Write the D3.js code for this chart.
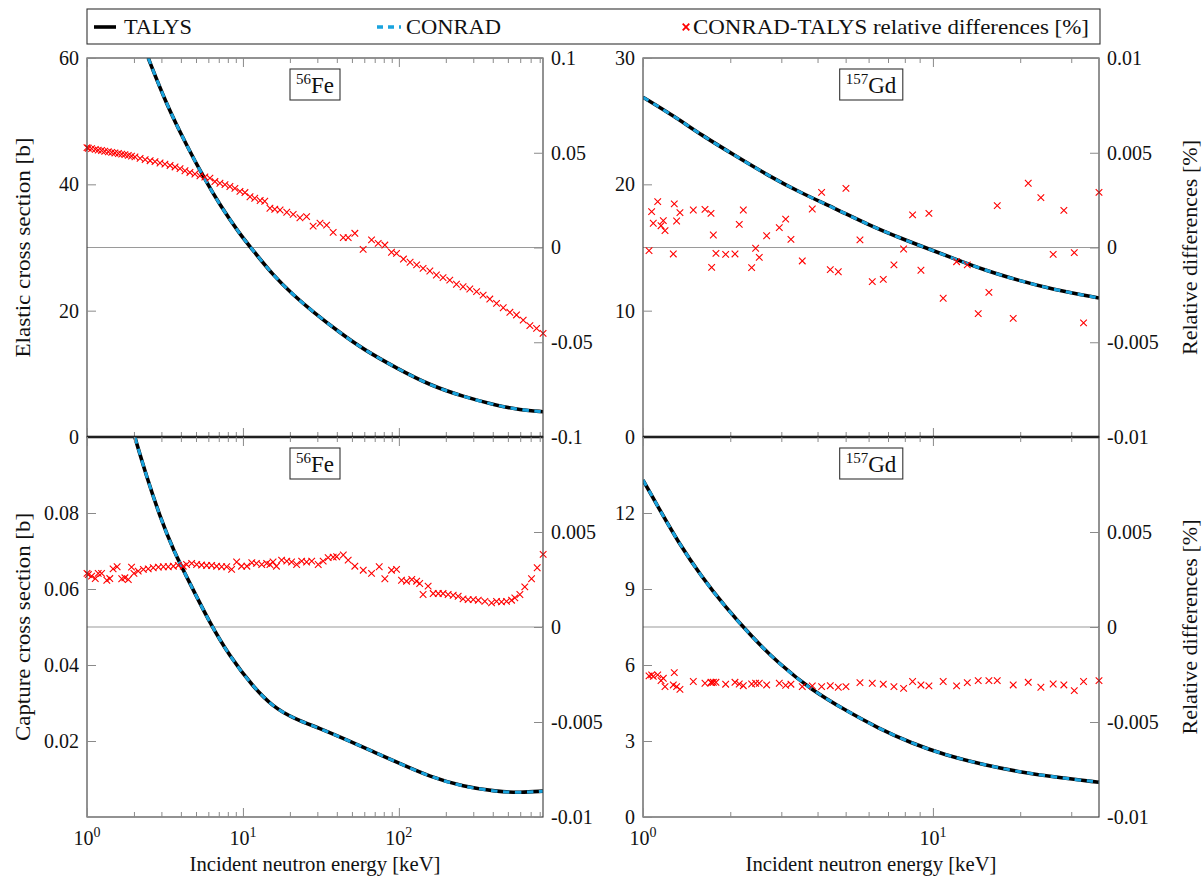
<!DOCTYPE html>
<html><head><meta charset="utf-8">
<script src="https://cdn.jsdelivr.net/npm/d3@7"></script>
<style>
body{margin:0;background:#fff}
svg text{font-family:"Liberation Serif","DejaVu Serif",serif;fill:#111}
</style>
</head><body>
<svg id="c" width="1204" height="880"></svg>
<script>
// ---------------- DATA ----------------
// 56Fe elastic cross section [b] (TALYS; CONRAD identical)
const feElasticE  = [2.47,3.24,4.35,5.57,7.12,9.57,11.4,15.6,21.0,28.2,41.9,59.0,96.6,158,258,423,597,840];
const feElasticXS = [60,52.6,46.2,41.2,36.7,32.1,29.8,25.6,22.5,19.8,16.5,13.9,10.9,8.2,6.4,5.0,4.3,4.0];
// 56Fe capture cross section [b]
const feCaptureE  = [2.03,2.41,2.94,3.57,4.57,6.14,8.25,11.6,15.6,21.0,31.2,46.2,68.5,101,158,258,423,597,840];
const feCaptureXS = [0.0999,0.0896,0.0790,0.0703,0.0615,0.0510,0.0422,0.0343,0.0290,0.0260,0.0233,0.0203,0.0172,0.0141,0.0106,0.0080,0.0067,0.0064,0.0068];
// 157Gd elastic cross section [b]
const gdElasticE  = [1.0,1.29,1.59,2.07,2.70,3.52,4.59,5.98,7.80,9.63,11.9,15.1,19.7,25.7,37.4];
const gdElasticXS = [26.9,25.35,23.9,22.3,20.7,19.3,18.1,16.8,15.7,14.9,14.1,13.2,12.4,11.7,11.0];
// 157Gd capture cross section [b]
const gdCaptureE  = [1.0,1.16,1.32,1.59,1.92,2.37,2.93,3.82,4.98,6.49,8.45,11.0,15.1,19.7,25.7,37.4];
const gdCaptureXS = [13.30,11.99,10.87,9.49,8.30,7.12,6.07,5.01,4.22,3.50,2.91,2.45,2.05,1.79,1.59,1.37];

// CONRAD-TALYS relative differences [%]
const feElDiffE = [1.00,1.02,1.07,1.13,1.18,1.24,1.30,1.37,1.44,1.51,1.59,1.67,1.75,1.84,1.93,2.03,2.19,2.36,2.54,2.73,2.94,3.16,3.41,3.67,3.95,4.25,4.57,4.92,5.30,5.70,6.14,6.61,7.12,7.67,8.25,8.88,9.57,10.3,11.1,11.9,12.9,13.8,14.9,16.0,17.3,19.1,21.0,23.2,25.6,28.2,31.2,34.4,37.9,44.0,47.3,52.2,59.0,66.8,73.7,81.3,89.7,96.6,107,118,130,143,158,174,192,212,234,258,285,315,347,383,423,467,515,568,627,692,764,841];
const feElDiff  = [0.0527,0.0524,0.0522,0.0518,0.0514,0.0512,0.0508,0.0505,0.0502,0.0499,0.0496,0.0493,0.0490,0.0486,0.0482,0.0478,0.0470,0.0464,0.0458,0.0453,0.0446,0.0440,0.0433,0.0425,0.0416,0.0405,0.0396,0.0388,0.0378,0.0372,0.0366,0.0348,0.0339,0.0332,0.0322,0.0312,0.0296,0.0290,0.0268,0.0260,0.0248,0.0244,0.0207,0.0202,0.0198,0.0186,0.0175,0.0157,0.0163,0.0113,0.0128,0.0118,0.0080,0.0052,0.0052,0.0075,-0.0010,0.0040,0.0022,0.0013,-0.0025,-0.0031,-0.0061,-0.0078,-0.0092,-0.0110,-0.0124,-0.0145,-0.0159,-0.0172,-0.0194,-0.0207,-0.0219,-0.0233,-0.0251,-0.0272,-0.0295,-0.0318,-0.0342,-0.0356,-0.0383,-0.0412,-0.0427,-0.0453];

const feCapDiffE = [1.00,1.02,1.07,1.13,1.18,1.24,1.34,1.40,1.47,1.56,1.67,1.75,1.84,1.93,2.00,2.13,2.30,2.47,2.66,2.87,3.09,3.32,3.58,3.85,4.14,4.35,4.69,5.05,5.43,5.85,6.30,6.78,7.30,7.86,8.46,9.11,9.80,10.6,11.4,12.2,13.2,14.2,14.9,15.6,16.4,17.7,19.1,20.5,22.1,23.8,25.6,27.6,30.4,32.7,35.2,37.9,39.9,44.0,47.3,52.2,59.1,66.8,74.8,81.3,89.7,96.6,104,112,121,130,136,143,154,166,179,192,207,223,240,258,278,300,323,356,393,423,455,490,528,554,597,642,709,771,842];
const feCapDiff  = [0.00282,0.00276,0.00268,0.00255,0.00282,0.00282,0.00246,0.00255,0.00306,0.00317,0.00254,0.00259,0.00250,0.00315,0.00282,0.00294,0.00303,0.00306,0.00312,0.00315,0.00317,0.00317,0.00320,0.00324,0.00320,0.00329,0.00335,0.00329,0.00326,0.00324,0.00324,0.00320,0.00317,0.00317,0.00303,0.00342,0.00320,0.00320,0.00338,0.00335,0.00329,0.00335,0.00329,0.00342,0.00320,0.00352,0.00347,0.00342,0.00329,0.00347,0.00342,0.00347,0.00329,0.00347,0.00365,0.00368,0.00370,0.00379,0.00352,0.00320,0.00299,0.00282,0.00317,0.00254,0.00299,0.00303,0.00246,0.00241,0.00250,0.00241,0.00229,0.00171,0.00215,0.00176,0.00176,0.00176,0.00171,0.00167,0.00162,0.00148,0.00144,0.00144,0.00141,0.00135,0.00127,0.00135,0.00132,0.00135,0.00141,0.00153,0.00171,0.00211,0.00254,0.00312,0.00382];

const gdDiffE = [1.049,1.071,1.085,1.124,1.154,1.175,1.191,1.272,1.282,1.306,1.341,1.491,1.636,1.716,1.725,1.748,1.785,1.928,2.076,2.148,2.218,2.370,2.446,2.518,2.670,2.952,3.105,3.238,3.543,3.836,4.131,4.426,4.716,5.012,5.602,6.177,6.742,7.337,7.923,8.509,9.092,9.687,10.85,12.07,13.14,14.33,15.60,16.67,18.92,21.32,23.57,25.99,28.29,30.73,33.08,37.4];
const gdElDiff = [-0.000167,0.00189,0.00128,0.00242,0.00115,0.00142,0.00089,-0.00034,0.00230,0.00140,0.00184,0.00198,0.00201,0.00180,-0.00105,0.00066,-0.00031,-0.00036,-0.00034,0.00122,0.00198,-0.00106,-0.00004,-0.00052,0.00062,0.00105,0.00150,0.00043,-0.00071,0.00203,0.00291,-0.00117,-0.00128,0.00312,0.00040,-0.00180,-0.00168,-0.00092,-0.00008,0.00172,-0.00120,0.00180,-0.00268,-0.00075,-0.00092,-0.00349,-0.00237,0.00221,-0.00374,0.00339,0.00263,-0.00036,0.00196,-0.00027,-0.00398,0.00291];
const gdCapDiff = [-0.00257,-0.00252,-0.00260,-0.00252,-0.00282,-0.00270,-0.00314,-0.00305,-0.00240,-0.00314,-0.00328,-0.00287,-0.00296,-0.00291,-0.00293,-0.00291,-0.00291,-0.00301,-0.00291,-0.00300,-0.00309,-0.00300,-0.00296,-0.00296,-0.00305,-0.00296,-0.00307,-0.00301,-0.00314,-0.00310,-0.00314,-0.00309,-0.00317,-0.00314,-0.00293,-0.00296,-0.00301,-0.00314,-0.00323,-0.00287,-0.00305,-0.00310,-0.00287,-0.00310,-0.00293,-0.00282,-0.00282,-0.00282,-0.00305,-0.00291,-0.00317,-0.00300,-0.00305,-0.00335,-0.00287,-0.00282];

// axes / ticks
const feXDomain = [1, 840];
const gdXDomain = [1, 37.4];
const feXMajor = [1, 10, 100];
const feXMinor = [2,3,4,5,6,7,8,9,20,30,40,50,60,70,80,90,200,300,400,500,600,700,800];
const gdXMajor = [1, 10];
const gdXMinor = [2,3,4,5,6,7,8,9,20,30];
const feXLabelExp = ["0","1","2"];
const gdXLabelExp = ["0","1"];

const feElYDomain = [0, 60],   feElYTicks = [0,20,40,60],            feElYLabels = ["0","20","40","60"];
const gdElYDomain = [0, 30],   gdElYTicks = [0,10,20,30],            gdElYLabels = ["0","10","20","30"];
const feCapYDomain = [0, 0.1], feCapYTicks = [0.02,0.04,0.06,0.08],  feCapYLabels = ["0.02","0.04","0.06","0.08"];
const gdCapYDomain = [0, 15],  gdCapYTicks = [0,3,6,9,12],           gdCapYLabels = ["0","3","6","9","12"];

const feElRDomain = [-0.1, 0.1], feElRTicks = [-0.1,-0.05,0,0.05,0.1], feElRLabels = ["-0.1","-0.05","0","0.05","0.1"];
const smallRDomain = [-0.01, 0.01];
const gdElRTicks = [-0.01,-0.005,0,0.005,0.01], gdElRLabels = ["-0.01","-0.005","0","0.005","0.01"];
const capRTicks = [-0.01,-0.005,0,0.005], capRLabels = ["-0.01","-0.005","0","0.005"];

const legendLabels = ["TALYS","CONRAD","CONRAD-TALYS relative differences [%]"];
const xTitle = "Incident neutron energy [keV]";

// ---------------- DRAWING ----------------
const FONT = '"Liberation Serif","DejaVu Serif",serif';
const svg = d3.select("#c");
const CYAN = "#19a3de", RED = "#ff0000";

const panels = [
 {id:"a", x0:87, x1:543, y0:58, y1:437, xd:feXDomain, xMajor:feXMajor, xMinor:feXMinor, xExp:null,
  yd:feElYDomain, yt:feElYTicks, yl:feElYLabels, rd:feElRDomain, rt:feElRTicks, rl:feElRLabels,
  cE:feElasticE, cV:feElasticXS, dE:feElDiffE, dV:feElDiff, sup:"56", el:"Fe", lt:"Elastic cross section [b]", ltLen:220, rtl:null},
 {id:"b", x0:643, x1:1099, y0:58, y1:437, xd:gdXDomain, xMajor:gdXMajor, xMinor:gdXMinor, xExp:null,
  yd:gdElYDomain, yt:gdElYTicks, yl:gdElYLabels, rd:smallRDomain, rt:gdElRTicks, rl:gdElRLabels,
  cE:gdElasticE, cV:gdElasticXS, dE:gdDiffE, dV:gdElDiff, sup:"157", el:"Gd", lt:null, rtl:"Relative differences [%]"},
 {id:"c", x0:87, x1:543, y0:437, y1:817, xd:feXDomain, xMajor:feXMajor, xMinor:feXMinor, xExp:feXLabelExp,
  yd:feCapYDomain, yt:feCapYTicks, yl:feCapYLabels, rd:smallRDomain, rt:capRTicks, rl:capRLabels,
  cE:feCaptureE, cV:feCaptureXS, dE:feCapDiffE, dV:feCapDiff, sup:"56", el:"Fe", lt:"Capture cross section [b]", ltLen:228, rtl:null},
 {id:"d", x0:643, x1:1099, y0:437, y1:817, xd:gdXDomain, xMajor:gdXMajor, xMinor:gdXMinor, xExp:gdXLabelExp,
  yd:gdCapYDomain, yt:gdCapYTicks, yl:gdCapYLabels, rd:smallRDomain, rt:capRTicks, rl:capRLabels,
  cE:gdCaptureE, cV:gdCaptureXS, dE:gdDiffE, dV:gdCapDiff, sup:"157", el:"Gd", lt:null, rtl:"Relative differences [%]"}
];

const crossPath = "M-3.3,-3.3L3.3,3.3M-3.3,3.3L3.3,-3.3";

function styleAxis(g){
  g.select(".domain").remove();
  g.selectAll(".tick line").attr("stroke","#8a8a8a").attr("stroke-width",1);
  g.attr("font-family",FONT).attr("font-size",20);
  g.selectAll(".tick text").attr("fill","#111");
}

panels.forEach(p=>{
  const x = d3.scaleLog().domain(p.xd).range([p.x0,p.x1]);
  const yL = d3.scaleLinear().domain(p.yd).range([p.y1,p.y0]);
  const yR = d3.scaleLinear().domain(p.rd).range([p.y1,p.y0]);
  const g = svg.append("g");

  g.append("clipPath").attr("id","clip"+p.id).append("rect")
    .attr("x",p.x0).attr("y",p.y0).attr("width",p.x1-p.x0).attr("height",p.y1-p.y0);

  // zero line of relative differences
  g.append("line").attr("x1",p.x0).attr("x2",p.x1).attr("y1",yR(0)).attr("y2",yR(0))
    .attr("stroke","#9a9a9a").attr("stroke-width",1.2);

  const pts = p.cE.map((e,i)=>[e,p.cV[i]]);
  const line = d3.line().x(d=>x(d[0])).y(d=>yL(d[1])).curve(d3.curveBasis);
  g.append("path").attr("d",line(pts)).attr("fill","none").attr("stroke","#000")
    .attr("stroke-width",3.6).attr("clip-path",`url(#clip${p.id})`);
  g.append("path").attr("d",line(pts)).attr("fill","none").attr("stroke",CYAN)
    .attr("stroke-width",3.0).attr("stroke-dasharray","6.5,5.5").attr("clip-path",`url(#clip${p.id})`);

  // markers
  g.selectAll("path.mk").data(p.dE.map((e,i)=>[e,p.dV[i]])).join("path").attr("class","mk")
    .attr("d",crossPath).attr("transform",d=>`translate(${x(d[0])},${yR(d[1])})`)
    .attr("fill","none").attr("stroke",RED).attr("stroke-width",1.1);

  // frame
  g.append("rect").attr("x",p.x0).attr("y",p.y0).attr("width",p.x1-p.x0).attr("height",p.y1-p.y0)
    .attr("fill","none").attr("stroke","#3a3a3a").attr("stroke-width",1.1);

  // x ticks (inward, top and bottom)
  [[d3.axisBottom, p.y1],[d3.axisTop, p.y0]].forEach(([ax,yy])=>{
    const gm = g.append("g").attr("transform",`translate(0,${yy})`)
      .call(ax(x).tickValues(p.xMajor).tickSize(-9).tickFormat(""));
    styleAxis(gm);
    const gn = g.append("g").attr("transform",`translate(0,${yy})`)
      .call(ax(x).tickValues(p.xMinor).tickSize(-5).tickFormat(""));
    styleAxis(gn);
  });

  // left axis
  const gl = g.append("g").attr("transform",`translate(${p.x0},0)`)
    .call(d3.axisLeft(yL).tickValues(p.yt).tickSize(-9).tickPadding(8).tickFormat((d,i)=>p.yl[i]));
  styleAxis(gl);
  // right axis
  const gr = g.append("g").attr("transform",`translate(${p.x1},0)`)
    .call(d3.axisRight(yR).tickValues(p.rt).tickSize(-9).tickPadding(8).tickFormat((d,i)=>p.rl[i]));
  styleAxis(gr);

  // x tick labels (10^n)
  if(p.xExp){
    p.xMajor.forEach((v,i)=>{
      const t = g.append("text").attr("x",x(v)).attr("y",845).attr("text-anchor","middle")
        .attr("font-size",20);
      t.append("tspan").text("10");
      t.append("tspan").attr("font-size",14).attr("dy",-8).text(p.xExp[i]);
    });
    g.append("text").attr("x",(p.x0+p.x1)/2).attr("y",871).attr("text-anchor","middle")
      .attr("font-size",21).attr("textLength",251).attr("lengthAdjust","spacingAndGlyphs").text(xTitle);
  }

  // title box
  const cx = (p.x0+p.x1)/2;
  const tt = g.append("text").attr("x",cx).attr("y",p.y0+35).attr("text-anchor","middle").attr("font-size",23);
  tt.append("tspan").attr("font-size",15).attr("dy",-9).text(p.sup);
  tt.append("tspan").attr("dy",9).text(p.el);
  const bb = tt.node().getBBox();
  g.insert("rect", () => tt.node()).attr("x",bb.x-6).attr("y",p.y0+11).attr("width",bb.width+12).attr("height",31)
    .attr("fill","#fff").attr("stroke","#333").attr("stroke-width",1.1);

  if(p.lt){
    const yc=(p.y0+p.y1)/2;
    g.append("text").attr("transform",`translate(30,${yc}) rotate(-90)`).attr("text-anchor","middle")
      .attr("font-size",21).attr("textLength",p.ltLen).attr("lengthAdjust","spacingAndGlyphs").text(p.lt);
  }
  if(p.rtl){
    const yc=(p.y0+p.y1)/2;
    g.append("text").attr("transform",`translate(1197,${yc}) rotate(-90)`).attr("text-anchor","middle")
      .attr("font-size",21).attr("textLength",215).attr("lengthAdjust","spacingAndGlyphs").text(p.rtl);
  }
  if(p.y0===58){
    g.append("line").attr("x1",p.x0).attr("x2",p.x1).attr("y1",p.y1).attr("y2",p.y1)
      .attr("stroke","#000").attr("stroke-width",2.4);
  }
});

// legend
const lg = svg.append("g");
lg.append("rect").attr("x",87).attr("y",9).attr("width",1013).attr("height",35)
  .attr("fill","#fff").attr("stroke","#333").attr("stroke-width",1.1);
lg.append("line").attr("x1",94).attr("x2",116).attr("y1",27).attr("y2",27).attr("stroke","#000").attr("stroke-width",3.6);
lg.append("text").attr("x",124).attr("y",34).attr("font-size",21).attr("textLength",68).attr("lengthAdjust","spacingAndGlyphs").text(legendLabels[0]);
lg.append("line").attr("x1",377).attr("x2",401).attr("y1",27).attr("y2",27).attr("stroke",CYAN)
  .attr("stroke-width",3.6).attr("stroke-dasharray","6,5");
lg.append("text").attr("x",406).attr("y",34).attr("font-size",21).attr("textLength",95).attr("lengthAdjust","spacingAndGlyphs").text(legendLabels[1]);
lg.append("path").attr("d",crossPath).attr("transform","translate(686,27)").attr("fill","none")
  .attr("stroke",RED).attr("stroke-width",1.8);
lg.append("text").attr("x",693).attr("y",34).attr("font-size",21).attr("textLength",396).attr("lengthAdjust","spacingAndGlyphs").text(legendLabels[2]);
</script>
</body></html>
